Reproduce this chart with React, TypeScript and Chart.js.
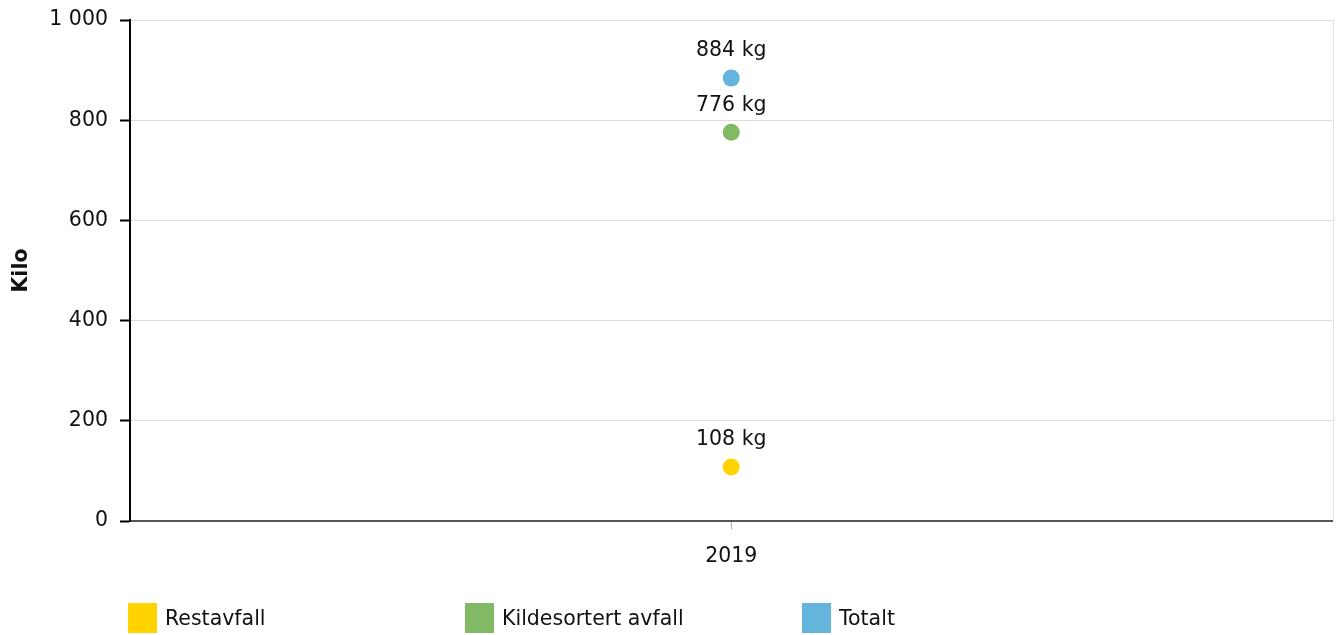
import React, { useEffect, useRef } from "react";
import { Chart, registerables } from "chart.js";

Chart.register(...registerables);

const categories = ["2019"];
const seriesNames = ["Restavfall", "Kildesortert avfall", "Totalt"];
const restavfall = [108];
const kildesortert = [776];
const totalt = [884];
const colors = ["rgb(255,210,0)", "rgb(130,185,100)", "rgb(100,180,220)"];
const yTicks = [0, 200, 400, 600, 800, 1000];
const unit = "kg";

const FONT = "'DejaVu Sans', Verdana, sans-serif";
const TEXT = "#111";
const FS = 20.5;

const fmt = (v: number) => String(v).replace(/\B(?=(\d{3})+(?!\d))/g, " ");

const labelPlugin = {
  id: "pointLabels",
  afterDatasetsDraw(chart: any) {
    const ctx = chart.ctx;
    ctx.save();
    ctx.font = `${FS}px ${FONT}`;
    ctx.fillStyle = TEXT;
    ctx.textAlign = "center";
    ctx.textBaseline = "middle";
    chart.data.datasets.forEach((ds: any, i: number) => {
      const meta = chart.getDatasetMeta(i);
      meta.data.forEach((pt: any, j: number) => {
        ctx.fillText(`${ds.data[j]} ${unit}`, pt.x, pt.y - 27);
      });
    });
    ctx.restore();
  },
};

const rightBorder = {
  id: "rightBorder",
  beforeDatasetsDraw(chart: any) {
    const { ctx, chartArea } = chart;
    ctx.save();
    ctx.strokeStyle = "#e0e0e0";
    ctx.lineWidth = 1;
    ctx.beginPath();
    ctx.moveTo(Math.round(chartArea.right) + 0.5, chartArea.top);
    ctx.lineTo(Math.round(chartArea.right) + 0.5, chartArea.bottom);
    ctx.stroke();
    ctx.restore();
  },
};

export default function App() {
  const ref = useRef<HTMLCanvasElement>(null);
  useEffect(() => {
    if (!ref.current) return;
    const series = [restavfall, kildesortert, totalt];
    const chart = new Chart(ref.current, {
      type: "line",
      data: {
        labels: categories,
        datasets: series.map((d, i) => ({
          label: seriesNames[i],
          data: d,
          showLine: false,
          backgroundColor: colors[i],
          borderColor: colors[i],
          pointRadius: 8.5,
          pointBorderWidth: 0,
          pointHoverRadius: 8.5,
        })),
      },
      options: {
        animation: false,
        responsive: false,
        maintainAspectRatio: false,
        layout: { padding: { left: 0, right: 4, top: 20, bottom: 0 } },
        plugins: {
          legend: { display: false },
          tooltip: { enabled: false },
        },
        scales: {
          x: {
            type: "category",
            offset: true,
            grid: {
              drawOnChartArea: false,
              tickLength: 8,
              tickColor: "#aaa",
            },
            border: { color: "#555", width: 2 },
            ticks: {
              color: TEXT,
              font: { family: FONT, size: FS },
              padding: 15,
            },
            afterFit: (s: any) => {
              s.height = 635 - 521;
              s.paddingLeft = 0;
              s.paddingRight = 0;
            },
          },
          y: {
            min: 0,
            max: 1000,
            afterBuildTicks: (s: any) => {
              s.ticks = yTicks.map((v) => ({ value: v }));
            },
            grid: {
              color: "#dcdcdc",
              tickLength: 10,
              tickColor: "#000",
              tickWidth: 2,
            },
            border: { color: "#000", width: 2 },
            ticks: {
              color: TEXT,
              font: { family: FONT, size: FS },
              padding: 12,
              callback: (v: any) => fmt(Number(v)),
            },
            title: {
              display: true,
              text: "Kilo",
              color: TEXT,
              font: { family: FONT, size: FS, weight: "bold" },
              padding: { top: 9, bottom: 0 },
            },
            afterFit: (s: any) => {
              s.width = 130;
              s.paddingTop = 0;
              s.paddingBottom = 0;
            },
          },
        },
      },
      plugins: [labelPlugin, rightBorder],
    });
    return () => chart.destroy();
  }, []);

  return (
    <div style={{ position: "absolute", left: 0, top: 0, width: 1341, height: 635, background: "#fff" }}>
      <canvas ref={ref} width={1341} height={635} style={{ display: "block", width: 1341, height: 635 }} />
      {seriesNames.map((name, i) => (
        <div
          key={name}
          style={{
            position: "absolute",
            left: 128 + i * 337,
            top: 603,
            height: 30,
            display: "flex",
            alignItems: "center",
            fontFamily: FONT,
            fontSize: `${FS}px`,
            color: TEXT,
            whiteSpace: "nowrap",
          }}
        >
          <span style={{ display: "inline-block", width: 29, height: 30, background: colors[i], marginRight: 8 }} />
          <span>{name}</span>
        </div>
      ))}
    </div>
  );
}
